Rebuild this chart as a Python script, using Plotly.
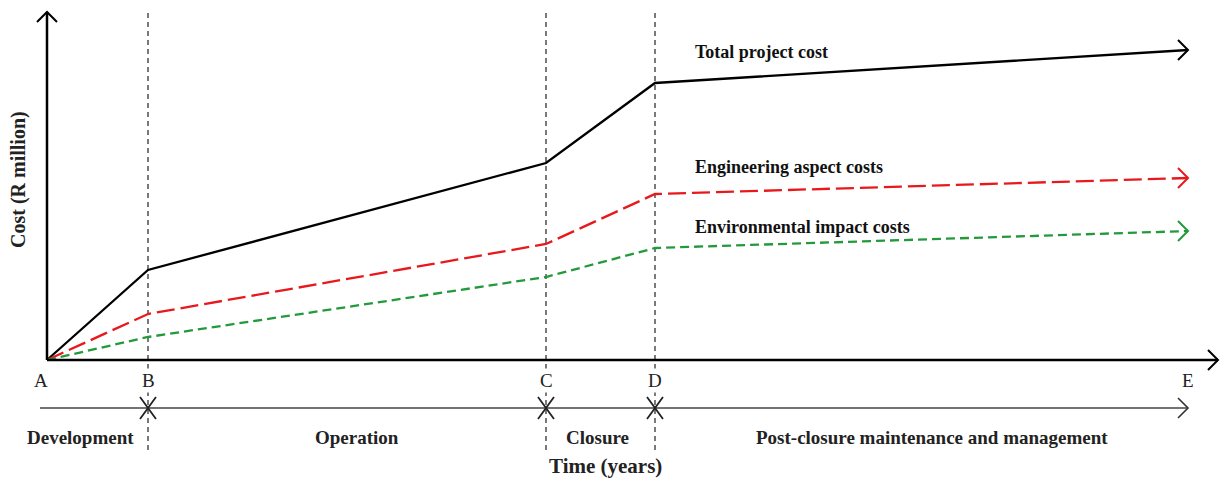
import plotly.graph_objects as go

# Phase boundaries (time, arbitrary units) and cost values (arbitrary units)
phase_letters = ["A", "B", "C", "D", "E"]
phase_times = [0.0, 1.01, 4.99, 6.08, 11.41]
total_cost = [0.0, 9.0, 19.7, 27.7, 31.0]
engineering_cost = [0.0, 4.6, 11.6, 16.6, 18.2]
environmental_cost = [0.0, 2.3, 8.3, 11.2, 12.9]
phase_names = ["Development", "Operation", "Closure", "Post-closure maintenance and management"]
series_names = ["Total project cost", "Engineering aspect costs", "Environmental impact costs"]

SERIF = "Liberation Serif, Times New Roman, serif"
X_RANGE = [-0.47, 11.74]
Y_RANGE = [-12.0, 36.0]
AX = 0.10   # chevron half-length in x units (~10 px)
AY = 1.0    # chevron half-height in y units (~10 px)

fig = go.Figure()

series = [
    (total_cost, "black", "solid", 2.3),
    (engineering_cost, "#e8191c", "18px,6px", 2.3),
    (environmental_cost, "#229a3c", "9px,5px", 2.3),
]
shapes = []
for vals, col, dash, w in series:
    fig.add_trace(go.Scatter(x=phase_times, y=vals, mode="lines",
                             line=dict(color=col, width=w, dash=dash),
                             showlegend=False, hoverinfo="skip"))
    xe, ye = phase_times[-1], vals[-1]
    shapes.append(dict(type="path", xref="x", yref="y",
                       path=f"M {xe-AX},{ye+AY} L {xe},{ye} L {xe-AX},{ye-AY}",
                       line=dict(color=col, width=2)))

# Axes
x_end = 11.71
y_top = 34.8
shapes.append(dict(type="line", x0=0, y0=0, x1=x_end, y1=0, line=dict(color="black", width=2.5)))
shapes.append(dict(type="path", path=f"M {x_end-AX},{AY} L {x_end},0 L {x_end-AX},{-AY}",
                   line=dict(color="black", width=2)))
shapes.append(dict(type="line", x0=0, y0=0, x1=0, y1=y_top, line=dict(color="black", width=2.5)))
shapes.append(dict(type="path", path=f"M {-AX},{y_top-AY} L 0,{y_top} L {AX},{y_top-AY}",
                   line=dict(color="black", width=2)))

# Vertical dashed boundaries
for t in phase_times[1:4]:
    shapes.append(dict(type="line", x0=t, x1=t, y0=-9.0, y1=35.0, layer="below",
                       line=dict(color="#222222", width=1.2, dash="5px,4px")))

# Phase timeline
y_ph = -4.8
shapes.append(dict(type="line", x0=-0.07, x1=phase_times[-1], y0=y_ph, y1=y_ph,
                   line=dict(color="#444444", width=1.4)))
shapes.append(dict(type="path",
                   path=f"M {phase_times[-1]-AX},{y_ph+AY} L {phase_times[-1]},{y_ph} L {phase_times[-1]-AX},{y_ph-AY}",
                   line=dict(color="#333333", width=1.6)))
for t in phase_times[1:4]:
    shapes.append(dict(type="path",
                       path=f"M {t-0.08},{y_ph+1.1} L {t},{y_ph} L {t-0.08},{y_ph-1.1}",
                       line=dict(color="#222222", width=1.8)))
    shapes.append(dict(type="path",
                       path=f"M {t+0.08},{y_ph+1.1} L {t},{y_ph} L {t+0.08},{y_ph-1.1}",
                       line=dict(color="#222222", width=1.8)))

annotations = []
# Letters
for lab, t in zip(phase_letters, phase_times):
    annotations.append(dict(x=t - (0.06 if lab == "A" else 0), y=-2.0, text=lab, showarrow=False,
                            bgcolor="white", borderpad=1,
                            font=dict(family=SERIF, size=19, color="#222222")))
# Phase names at mid-points
phase_label_x = [0.33, 3.1, 5.5, 8.85]
for name, px in zip(phase_names, phase_label_x):
    annotations.append(dict(x=px, y=-7.7, text=f"<b>{name}</b>", showarrow=False,
                            font=dict(family=SERIF, size=19, color="#222222")))
annotations.append(dict(x=5.58, y=-10.6, text="<b>Time (years)</b>", showarrow=False,
                        font=dict(family=SERIF, size=21, color="#222222")))
annotations.append(dict(x=-0.29, y=18.0, text="<b>Cost (R million)</b>", showarrow=False, textangle=-90,
                        font=dict(family=SERIF, size=20, color="#222222")))
# Series labels
for name, yv in zip(series_names, [30.8, 19.3, 13.3]):
    annotations.append(dict(x=6.46, y=yv, text=f"<b>{name}</b>", showarrow=False, xanchor="left",
                            font=dict(family=SERIF, size=18, color="#111111")))

fig.update_layout(
    width=1221, height=480,
    margin=dict(l=0, r=0, t=0, b=0),
    paper_bgcolor="white", plot_bgcolor="white",
    xaxis=dict(range=X_RANGE, visible=False, fixedrange=True),
    yaxis=dict(range=Y_RANGE, visible=False, fixedrange=True),
    shapes=shapes, annotations=annotations,
)
fig.write_html("out.html", config={"displayModeBar": False},
               post_script="document.body.style.margin='0';document.body.style.overflow='hidden';")
